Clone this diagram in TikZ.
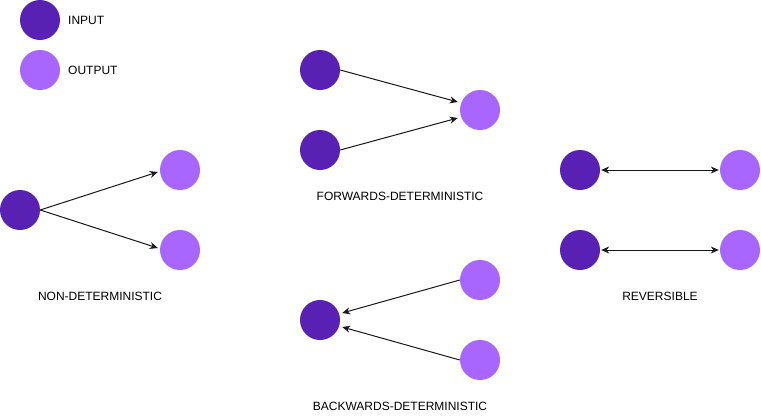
\documentclass[tikz,border=0pt]{standalone}
\usepackage{fontspec}
\setmainfont{Liberation Sans}
\usetikzlibrary{arrows.meta}
\definecolor{inpc}{HTML}{5920B4}
\definecolor{outc}{HTML}{A866FF}
\begin{document}
\begin{tikzpicture}[x=1pt,y=-1pt,
  inp/.style={circle,fill=inpc,minimum size=40pt,inner sep=0pt},
  outp/.style={circle,fill=outc,minimum size=40pt,inner sep=0pt},
  lbl/.style={font=\fontsize{12}{14}\selectfont,text=black,inner sep=0pt},
  arr/.style={draw=black!90,line width=1pt,-{Stealth[length=8pt,width=7pt,inset=2.5pt]}},
  darr/.style={draw=black!90,line width=1pt,{Stealth[length=8pt,width=7pt,inset=2.5pt]}-{Stealth[length=8pt,width=7pt,inset=2.5pt]}}]
\useasboundingbox[fill=white] (0,0) rectangle (761,418);
% legend
\node[inp] (li) at (40,20) {};
\node[outp] (lo) at (40,70) {};
\node[lbl,anchor=west] (lit) at (68,20) {INPUT};
\node[lbl,anchor=west] (lot) at (68,70) {OUTPUT};
% non-deterministic
\node[inp] (n1) at (20,210) {};
\node[outp] (n2) at (180,170) {};
\node[outp] (n3) at (180,250) {};
\draw[arr] (n1.east) -- ([xshift=-2pt,yshift=-2pt]n2.west);
\draw[arr] (n1.east) -- ([xshift=-2pt,yshift=2pt]n3.west);
\node[lbl] (nl) at (100,296) {NON-DETERMINISTIC};
% forwards
\node[inp] (f1) at (320,70) {};
\node[inp] (f2) at (320,150) {};
\node[outp] (f3) at (480,110) {};
\draw[arr] (f1.east) -- ([xshift=-2pt,yshift=8pt]f3.west);
\draw[arr] (f2.east) -- ([xshift=-2pt,yshift=-8pt]f3.west);
\node[lbl] (fl) at (400,196) {FORWARDS-DETERMINISTIC};
% backwards
\node[outp] (b1) at (480,280) {};
\node[outp] (b2) at (480,360) {};
\node[inp] (b3) at (320,320) {};
\draw[arr] (b1.west) -- ([xshift=2pt,yshift=7pt]b3.east);
\draw[arr] (b2.west) -- ([xshift=2pt,yshift=-7pt]b3.east);
\node[lbl] (bl) at (400,406) {BACKWARDS-DETERMINISTIC};
% reversible
\node[inp] (r1) at (580,170) {};
\node[inp] (r2) at (580,250) {};
\node[outp] (r3) at (740,170) {};
\node[outp] (r4) at (740,250) {};
\draw[darr] ([xshift=1pt]r1.east) -- ([xshift=-1pt]r3.west);
\draw[darr] ([xshift=1pt]r2.east) -- ([xshift=-1pt]r4.west);
\node[lbl] (rl) at (660,296) {REVERSIBLE};
\end{tikzpicture}
\end{document}
